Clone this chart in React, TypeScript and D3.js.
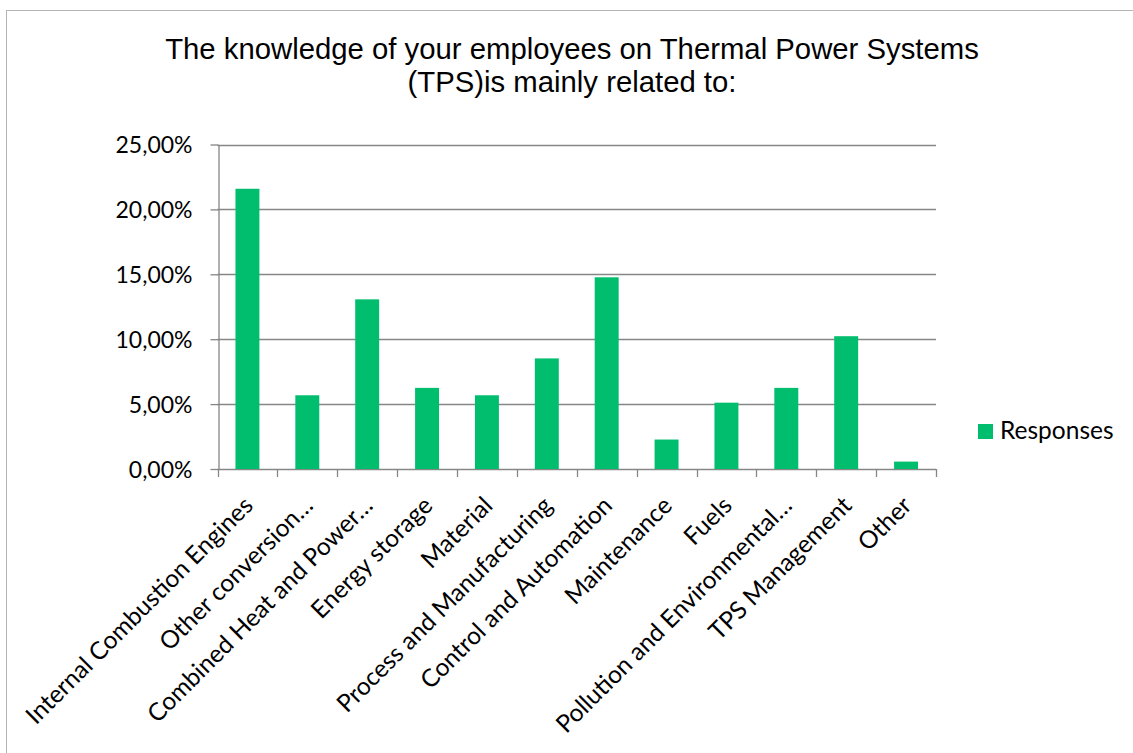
import { useEffect, useRef } from 'react';
import * as d3 from 'd3';

const categories = [
  'Internal Combustion Engines',
  'Other conversion…',
  'Combined Heat and Power…',
  'Energy storage',
  'Material',
  'Process and Manufacturing',
  'Control and Automation',
  'Maintenance',
  'Fuels',
  'Pollution and Environmental…',
  'TPS Management',
  'Other',
];
const responses = [21.59, 5.68, 13.07, 6.25, 5.68, 8.52, 14.77, 2.27, 5.11, 6.25, 10.23, 0.57];
const yTicks = [0, 5, 10, 15, 20, 25];
const titleLines = ['The knowledge of your employees on Thermal Power Systems', '(TPS)is mainly related to:'];
const seriesName = 'Responses';

const App = () => {
  const svgRef = useRef<SVGSVGElement>(null);

  useEffect(() => {
    const svg = d3.select(svgRef.current);
    const width = 1133;
    const height = 753;
    const margin = { top: 144.5, right: 197, bottom: 284, left: 217.5 };
    const green = '#00be6e';
    const grey = '#868686';
    const labelFont = 'Lato, "Open Sans", sans-serif';

    svg.selectAll('*').remove();

    // chart border
    svg.append('rect')
      .attr('x', 6.5).attr('y', 10.5)
      .attr('width', width + 20).attr('height', height + 20)
      .attr('fill', 'white').attr('stroke', '#b4b4b4').attr('stroke-width', 1);

    svg.append('g')
      .selectAll('text')
      .data(titleLines)
      .join('text')
      .attr('x', 572)
      .attr('y', (d, i) => 58.5 + i * 33)
      .attr('text-anchor', 'middle')
      .style('font-family', '"Liberation Sans", Arial, sans-serif')
      .style('font-size', '29.3px')
      .attr('fill', '#000')
      .text(d => d);

    const x = d3.scaleBand()
      .domain(categories)
      .range([margin.left, width - margin.right])
      .paddingInner(0.6)
      .paddingOuter(0.3);

    const y = d3.scaleLinear()
      .domain([0, 25])
      .range([height - margin.bottom, margin.top]);

    const y0 = y(0);
    const step = x.step();
    const left = margin.left;
    const right = width - margin.right;

    // gridlines
    svg.append('g')
      .selectAll('line')
      .data(yTicks.filter(t => t > 0))
      .join('line')
      .attr('x1', left).attr('x2', right)
      .attr('y1', d => Math.round(y(d)) + 0.5).attr('y2', d => Math.round(y(d)) + 0.5)
      .attr('stroke', grey).attr('stroke-width', 1.3);

    // y axis
    const yAxis = svg.append('g')
      .attr('transform', `translate(${Math.round(left) + 0.5},0)`)
      .call(d3.axisLeft(y).tickValues(yTicks).tickSize(8).tickSizeOuter(0)
        .tickFormat(d => d3.format('.2f')(d as number).replace('.', ',') + '%'));
    yAxis.select('.domain').attr('stroke', grey).attr('stroke-width', 1.3);
    yAxis.selectAll('.tick line').attr('stroke', grey).attr('stroke-width', 1.3);
    yAxis.selectAll('.tick text')
      .attr('x', -26)
      .attr('dy', '0.36em')
      .style('font-family', labelFont)
      .style('font-size', '23px')
      .attr('fill', '#000');

    // x axis line and boundary ticks
    svg.append('line')
      .attr('x1', left).attr('x2', right)
      .attr('y1', Math.round(y0) + 0.5).attr('y2', Math.round(y0) + 0.5)
      .attr('stroke', grey).attr('stroke-width', 1.3);
    svg.append('g')
      .selectAll('line')
      .data(d3.range(categories.length + 1))
      .join('line')
      .attr('x1', i => Math.round(left + i * step) + 0.5)
      .attr('x2', i => Math.round(left + i * step) + 0.5)
      .attr('y1', y0).attr('y2', y0 + 8)
      .attr('stroke', grey).attr('stroke-width', 1.3);

    // bars
    svg.append('g')
      .selectAll('rect')
      .data(responses)
      .join('rect')
      .attr('x', (d, i) => x(categories[i]) as number)
      .attr('y', d => y(d))
      .attr('width', x.bandwidth())
      .attr('height', d => y0 - y(d))
      .attr('fill', green);

    // category labels
    svg.append('g')
      .selectAll('text')
      .data(categories)
      .join('text')
      .attr('transform', d => `translate(${(x(d) as number) + x.bandwidth() / 2 + 1},${y0 + 32}) rotate(-45)`)
      .attr('text-anchor', 'end')
      .attr('dy', '0.35em')
      .style('font-family', labelFont)
      .style('font-size', '24.5px')
      .attr('fill', '#000')
      .text(d => d);

    // legend
    const legend = svg.append('g').attr('transform', 'translate(978,424)');
    legend.append('rect').attr('width', 15).attr('height', 15).attr('fill', green);
    legend.append('text')
      .attr('x', 22).attr('y', 15)
      .style('font-family', labelFont)
      .style('font-size', '24.5px')
      .attr('fill', '#000')
      .text(seriesName);
  }, []);

  return (
    <svg ref={svgRef} width="1133" height="753"
      style={{ position: 'absolute', left: 0, top: 0, background: '#fff' }}></svg>
  );
};

export default App;
